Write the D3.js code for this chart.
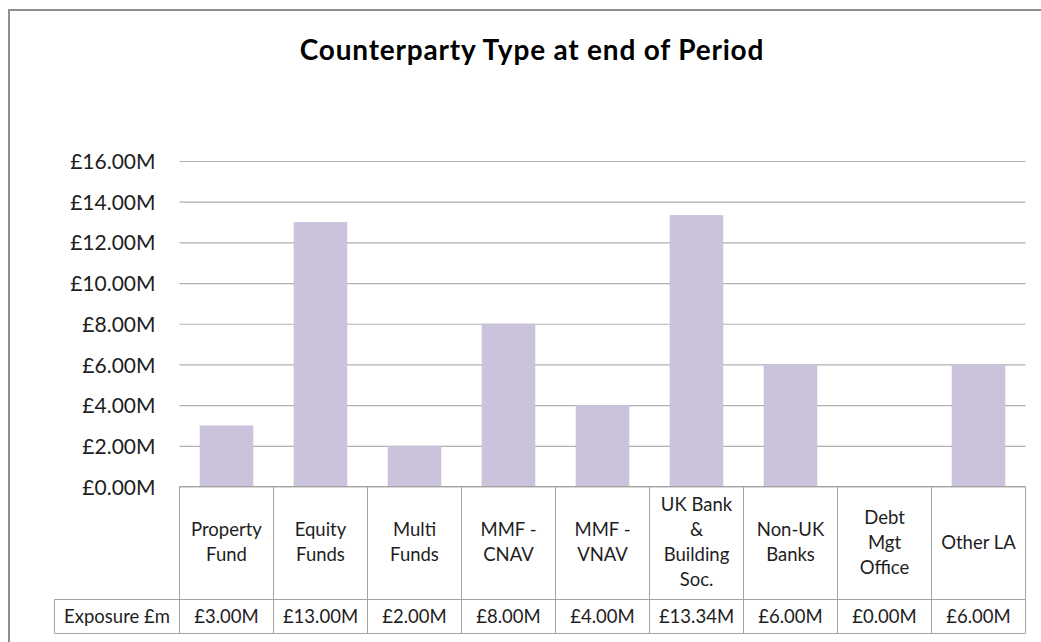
<!DOCTYPE html>
<html>
<head>
<meta charset="utf-8">
<script src="https://cdn.jsdelivr.net/npm/d3@7"></script>
<style>
  html, body { margin: 0; padding: 0; background: #fff; }
  svg { display: block; }
  text { font-family: Lato, "Open Sans", "Liberation Sans", sans-serif; }
</style>
</head>
<body>
<svg id="chart" width="1041" height="642"></svg>
<script>
// Counterparty exposure by type (GBP millions)
const categories = [
  "Property\nFund",
  "Equity\nFunds",
  "Multi\nFunds",
  "MMF -\nCNAV",
  "MMF -\nVNAV",
  "UK Bank\n&\nBuilding\nSoc.",
  "Non-UK\nBanks",
  "Debt\nMgt\nOffice",
  "Other LA"
];
const exposure = [3.00, 13.00, 2.00, 8.00, 4.00, 13.34, 6.00, 0.00, 6.00];
const yTicks = [0, 2, 4, 6, 8, 10, 12, 14, 16];
const seriesName = "Exposure £m";
const title = "Counterparty Type at end of Period";

const fmt = v => "£" + d3.format(".2f")(v) + "M";

const svg = d3.select("#chart");
const W = 1041, H = 642;

// outer chart frame (left and top edges visible)
svg.append("path")
  .attr("d", `M9,${H} V10 H${W}`)
  .attr("fill", "none")
  .attr("stroke", "#8e8e8e")
  .attr("stroke-width", 2);

// title
svg.append("text")
  .attr("x", 532)
  .attr("y", 60)
  .attr("text-anchor", "middle")
  .attr("font-size", 28)
  .attr("font-weight", 700)
  .attr("letter-spacing", 0.8)
  .attr("fill", "#000")
  .text(title);

const plot = { left: 179.5, right: 1025.5, top: 161, bottom: 486.5 };

const x = d3.scaleBand()
  .domain(categories)
  .range([plot.left, plot.right])
  .padding(0);

const y = d3.scaleLinear()
  .domain([0, 16])
  .range([plot.bottom, plot.top]);

// value axis with horizontal gridlines
const yAxis = d3.axisLeft(y)
  .tickValues(yTicks)
  .tickFormat(fmt)
  .tickSize(-(plot.right - plot.left))
  .tickPadding(24);

const gy = svg.append("g")
  .attr("transform", `translate(${plot.left},0)`)
  .call(yAxis);
gy.select(".domain").remove();
gy.selectAll(".tick line")
  .attr("stroke", "#b0b0b0")
  .attr("stroke-width", 1.2);
gy.selectAll(".tick text")
  .attr("font-size", 21)
  .attr("fill", "#1e1e1e")
  .attr("dy", "0.36em");

// bars
const barW = x.bandwidth() * 0.57;
svg.append("g")
  .selectAll("rect")
  .data(exposure)
  .join("rect")
  .attr("x", (d, i) => x(categories[i]) + (x.bandwidth() - barW) / 2)
  .attr("y", d => y(d))
  .attr("width", barW)
  .attr("height", d => y(0) - y(d))
  .attr("fill", "#cbc2db");

// data table below the axis
const rowTop = plot.bottom;
const rowMid = 599.5;
const rowBot = 633.5;
const headLeft = 54.5;
const lineColor = "#a3a3a3";
const table = svg.append("g")
  .attr("fill", "none")
  .attr("stroke", lineColor)
  .attr("stroke-width", 1);

// category row outline
table.append("path")
  .attr("d", `M${plot.left},${rowTop} H${plot.right} V${rowBot} H${headLeft} V${rowMid} H${plot.right}`);
// column separators
categories.forEach(c => {
  table.append("line")
    .attr("x1", x(c)).attr("x2", x(c))
    .attr("y1", rowTop).attr("y2", rowBot);
});

// category labels, centred in their cells
const labelSize = 18.5;
const lineGap = 25;
const catMid = (rowTop + rowMid) / 2 - 1;
const labels = svg.append("g")
  .attr("font-size", labelSize)
  .attr("fill", "#1e1e1e")
  .attr("text-anchor", "middle");
categories.forEach(c => {
  const lines = c.split("\n");
  const t = labels.append("text")
    .attr("x", x(c) + x.bandwidth() / 2);
  lines.forEach((ln, j) => {
    t.append("tspan")
      .attr("x", x(c) + x.bandwidth() / 2)
      .attr("y", catMid + (j - (lines.length - 1) / 2) * lineGap)
      .attr("dy", "0.36em")
      .text(ln);
  });
});

// values row
const valMid = (rowMid + rowBot) / 2;
labels.append("text")
  .attr("x", (headLeft + plot.left) / 2)
  .attr("y", valMid)
  .attr("dy", "0.36em")
  .text(seriesName);
exposure.forEach((v, i) => {
  labels.append("text")
    .attr("x", x(categories[i]) + x.bandwidth() / 2)
    .attr("y", valMid)
    .attr("dy", "0.36em")
    .text(fmt(v));
});
</script>
</body>
</html>
